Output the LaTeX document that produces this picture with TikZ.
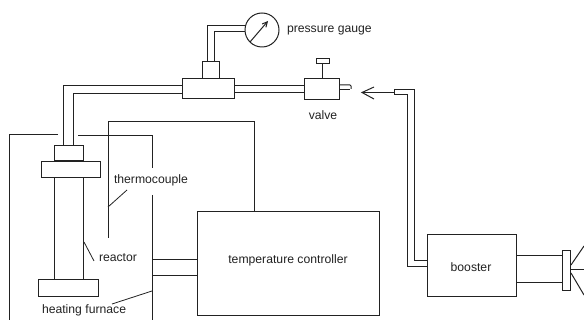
\documentclass[tikz,border=0pt]{standalone}
\usetikzlibrary{arrows.meta}
\usepackage{fontspec}
\setmainfont{Liberation Sans}
\definecolor{ink}{HTML}{222222}
\begin{document}
\begin{tikzpicture}[x=1pt,y=-1pt,
  line width=1pt,
  line join=miter,
  box/.style={draw=ink,fill=white,inner sep=0pt,outer sep=0pt,minimum width=#1},
  wire/.style={draw=ink},
  leader/.style={draw=ink,line width=.8pt},
  lbl/.style={inner sep=0pt,outer sep=0pt,text=ink,font=\fontsize{12.2}{14}\selectfont}]
\path[use as bounding box] (0,0) rectangle (584,320);
% boxes
\node[box=182pt,minimum height=104pt] (ctrl) at (288,264) {};
\node[box=89pt,minimum height=62pt] (boost) at (471.5,266) {};
\node[box=52pt,minimum height=20pt] (tee) at (208,89) {};
\node[box=17.5pt,minimum height=17pt] (teecap) at (210.75,70.5) {};
\node[box=35pt,minimum height=21pt] (valve) at (321.5,89.5) {};
\node[box=13pt,minimum height=5pt] (handle) at (322.5,61.5) {};
\node[box=29pt,minimum height=15pt] (cap) at (68.5,153.5) {};
\node[box=59pt,minimum height=16pt] (flange) at (70.5,170) {};
\node[box=60pt,minimum height=17pt] (base) at (68,288.5) {};
\node[box=8pt,minimum height=40pt] (plate) at (566,271) {};
\node[draw=ink,circle,inner sep=0pt,outer sep=0pt,minimum size=34pt] (gauge) at (262,30) {};
% named free ends
\coordinate (fL) at (58,135);
\coordinate (fR) at (78,136);
\coordinate (fC) at (152,136);
\coordinate (fGapT) at (152,168);
\coordinate (fGapB) at (152,195);
\coordinate (fEnd) at (152,320);
\coordinate (tcEnd) at (108,238);
\coordinate (aTip) at (362,92.5);
\coordinate (aTail) at (394,92.5);
% reactor pipes
\draw[wire] (63,146) -- (63,86) -- (tee.west |- 0,86);
\draw[wire] (73.5,146) -- (73.5,94) -- (tee.west |- 0,94);
\draw[wire] (54,178) -- (54,280);
\draw[wire] (83,178) -- (83,280);
% gauge pipes
\draw[wire] (207.5,62) -- (207.5,26) -- (245.5,26);
\draw[wire] (214,62) -- (214,32) -- (245,32);
\draw[wire,-{Straight Barb[length=5pt,width=5pt]}] (250,42) -- (268,21);
% tee to valve
\draw[wire] (tee.east |- 0,86) -- (valve.west |- 0,86);
\draw[wire] (tee.east |- 0,93) -- (valve.west |- 0,93);
\draw[wire] (handle.south) -- (handle.south |- valve.north);
% valve nozzle
\draw[wire] (valve.east |- 0,85) -- (350,85) -- (351,86) -- (351,89);
\draw[wire] (valve.east |- 0,89.5) -- (350,89.5);
% arrow into valve
\draw[wire] (374,87) -- (aTip) -- (374,99);
\draw[wire] (aTip) -- (aTail);
% booster line
\draw[wire] (394,89) -- (394,95);
\draw[wire] (394,90) -- (414,90) -- (414,261) -- (boost.west |- 0,261);
\draw[wire] (394,95) -- (407,95) -- (407,267) -- (boost.west |- 0,267);
% booster outlet
\draw[wire] (boost.east |- 0,256) -- (plate.west |- 0,256);
\draw[wire] (boost.east |- 0,283) -- (plate.west |- 0,283);
\draw[wire] (571,265) -- (584,246);
\draw[wire] (571,270) -- (584,270);
\draw[wire] (571,273) -- (584,295);
% furnace
\draw[wire] (fL) -- (9,135) -- (9,320);
\draw[wire] (fR) -- (fC) -- (fGapT);
\draw[wire] (fGapB) -- (fEnd);
% thermocouple
\draw[wire] (tcEnd) -- (108,122) -- (254,122) -- (254,0 |- ctrl.north);
% furnace to controller
\draw[wire] (152,260) -- (ctrl.west |- 0,260);
\draw[wire] (152,276) -- (ctrl.west |- 0,276);
% labels
\node[lbl,anchor=west] (lgauge) at (287,30) {pressure gauge};
\node[lbl,anchor=center] (lvalve) at (323,115) {valve};
\node[lbl,anchor=center] (lctrl) at (288,260) {temperature controller};
\node[lbl,anchor=center] (lboost) at (471,267) {booster};
\node[lbl,anchor=west] (ltc) at (114,180) {thermocouple};
\node[lbl,anchor=west] (lreact) at (99,258) {reactor};
\node[lbl,anchor=west] (lfurn) at (42,310) {heating furnace};
% leaders
\draw[leader] (108,207) -- (127,190);
\draw[leader] (84,242) -- (94,261);
\draw[leader] (152,291) -- (112,304);
\end{tikzpicture}
\end{document}
